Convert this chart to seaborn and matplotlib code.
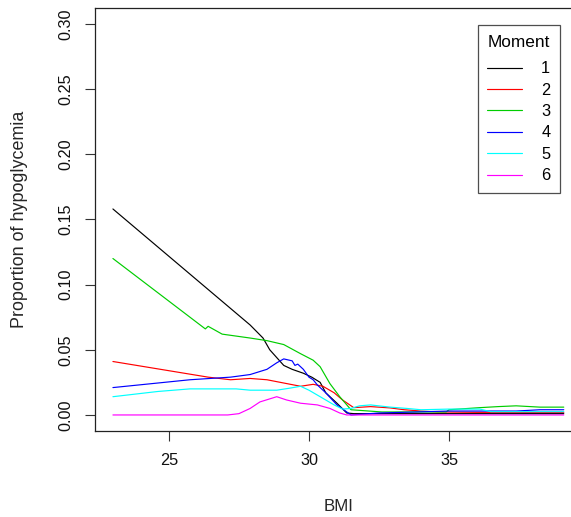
import matplotlib
matplotlib.use("Agg")
import matplotlib.pyplot as plt
import seaborn as sns
import pandas as pd

# Smoothed proportion of hypoglycemia against BMI, one curve per moment
bmi_1 = [23.0, 27.9, 28.36, 28.6, 28.85, 29.1, 29.4, 29.8, 30.1, 30.4, 30.6, 31.0, 31.35, 31.6, 33.0, 35.0, 37.0, 39.1]
hypo_1 = [0.158, 0.069, 0.059, 0.050, 0.044, 0.038, 0.035, 0.032, 0.029, 0.025, 0.017, 0.009, 0.0015, 0.001, 0.001, 0.001, 0.001, 0.001]

bmi_2 = [23.0, 26.4, 27.2, 27.9, 28.5, 29.1, 29.7, 30.15, 30.5, 30.9, 31.2, 31.6, 32.2, 32.9, 33.4, 34.0, 34.6, 36.0, 39.1]
hypo_2 = [0.041, 0.029, 0.027, 0.028, 0.027, 0.0245, 0.022, 0.0235, 0.022, 0.017, 0.0115, 0.0056, 0.0064, 0.0054, 0.004, 0.003, 0.0023, 0.002, 0.002]

bmi_3 = [23.0, 26.3, 26.4, 26.9, 27.9, 28.5, 29.1, 29.7, 30.15, 30.4, 30.75, 31.1, 31.5, 32.6, 34.9, 35.0, 36.1, 36.75, 37.4, 38.25, 39.1]
hypo_3 = [0.120, 0.066, 0.068, 0.062, 0.059, 0.057, 0.054, 0.047, 0.042, 0.037, 0.024, 0.014, 0.004, 0.0023, 0.0023, 0.004, 0.0056, 0.0064, 0.007, 0.006, 0.006]

bmi_4 = [23.0, 25.75, 27.2, 27.9, 28.5, 28.85, 29.1, 29.4, 29.5, 29.6, 29.8, 30.0, 30.15, 30.3, 30.6, 31.0, 31.5, 32.5, 35.0, 36.1, 37.4, 38.25, 39.1]
hypo_4 = [0.021, 0.027, 0.029, 0.031, 0.035, 0.040, 0.043, 0.0415, 0.038, 0.039, 0.035, 0.029, 0.027, 0.023, 0.017, 0.0077, 0.0, 0.0015, 0.003, 0.003, 0.003, 0.004, 0.004]

bmi_5 = [23.0, 24.6, 25.75, 27.4, 27.9, 28.85, 29.3, 29.7, 30.0, 30.4, 30.9, 31.2, 31.5, 31.8, 32.2, 32.9, 33.5, 34.0, 35.0, 36.1, 36.5, 39.1]
hypo_5 = [0.014, 0.018, 0.020, 0.020, 0.019, 0.019, 0.0205, 0.022, 0.019, 0.014, 0.0077, 0.0045, 0.005, 0.007, 0.0077, 0.006, 0.005, 0.004, 0.0045, 0.0045, 0.0025, 0.0025]

bmi_6 = [23.0, 27.1, 27.5, 27.9, 28.25, 28.85, 29.2, 29.7, 30.3, 30.75, 31.1, 31.35, 39.1]
hypo_6 = [0.0, 0.0, 0.001, 0.005, 0.010, 0.014, 0.0115, 0.009, 0.0077, 0.005, 0.0015, 0.0, 0.0]

moments = ["1", "2", "3", "4", "5", "6"]
colors = ["#000000", "#FF0000", "#00CD00", "#0000FF", "#00FFFF", "#FF00FF"]

x_ticks = [25, 30, 35]
y_ticks = [0.00, 0.05, 0.10, 0.15, 0.20, 0.25, 0.30]
y_tick_labels = ["0.00", "0.05", "0.10", "0.15", "0.20", "0.25", "0.30"]

series = [(bmi_1, hypo_1), (bmi_2, hypo_2), (bmi_3, hypo_3),
          (bmi_4, hypo_4), (bmi_5, hypo_5), (bmi_6, hypo_6)]
frames = [pd.DataFrame({"BMI": b, "Proportion": h, "Moment": m})
          for m, (b, h) in zip(moments, series)]
df = pd.concat(frames, ignore_index=True)

sns.set_style("ticks")
plt.rcParams["font.family"] = ["Liberation Sans", "DejaVu Sans"]
plt.rcParams["text.color"] = "black"

fig = plt.figure(figsize=(5.71, 5.17), dpi=100)
ax = fig.add_axes([95 / 571, (517 - 430.6) / 517, 486.7 / 571, 422.4 / 517])

sns.lineplot(data=df, x="BMI", y="Proportion", hue="Moment",
             palette=dict(zip(moments, colors)), hue_order=moments,
             estimator=None, sort=False, linewidth=0.85, ax=ax)

ax.set_xlim(22.36, 39.74)
ax.set_ylim(-0.012, 0.312)
ax.set_xticks(x_ticks)
ax.set_xticklabels([str(t) for t in x_ticks])
ax.set_yticks(y_ticks)
ax.set_yticklabels(y_tick_labels, rotation=90, va="center")

for s in ax.spines.values():
    s.set_visible(True)
    s.set_color("#222222")
    s.set_linewidth(0.9)

ax.tick_params(axis="both", length=7.2, width=0.8, color="#333333",
               labelsize=11.7, labelcolor="#111111")
ax.tick_params(axis="x", pad=9)
ax.tick_params(axis="y", pad=8.5)

ax.set_xlabel("BMI", fontsize=12.2, labelpad=22.5)
ax.set_ylabel("Proportion of hypoglycemia", fontsize=12.9, labelpad=22)

handles, labels = ax.get_legend_handles_labels()
leg = ax.legend(handles, labels, title="Moment", loc="upper right",
                bbox_to_anchor=(560 / 571, 1 - 25 / 517),
                bbox_transform=fig.transFigure,
                fontsize=11.8, title_fontsize=12.4, alignment="right",
                frameon=True, fancybox=False, edgecolor="#222222",
                handlelength=2.1, handletextpad=1.2, labelspacing=0.39,
                borderpad=0.58, borderaxespad=0)
leg.get_frame().set_linewidth(0.9)
# extra room between the legend title and its entries
leg._legend_box.sep = 8.5

fig.savefig("out.png", dpi=100)
